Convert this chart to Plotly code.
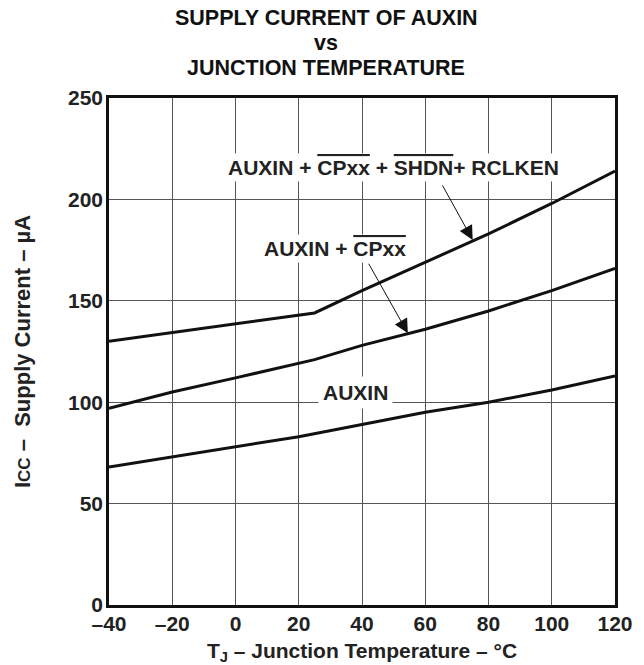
import plotly.graph_objects as go

temp_top = [-40, 25, 40, 60, 80, 100, 120]
cur_top = [130, 144, 155, 169, 183, 198, 214]
temp_mid = [-40, -20, 0, 20, 25, 40, 60, 80, 100, 120]
cur_mid = [97, 105, 112, 119, 121, 128, 136, 145, 155, 166]
temp_low = [-40, -20, 0, 20, 40, 60, 80, 100, 120]
cur_low = [68, 73, 78, 83, 89, 95, 100, 106, 113]
x_ticks = [-40, -20, 0, 20, 40, 60, 80, 100, 120]
x_ticklabels = ["\u201340", "\u201320", "0", "20", "40", "60", "80", "100", "120"]
y_ticks = [0, 50, 100, 150, 200, 250]
title_lines = ["SUPPLY CURRENT OF AUXIN", "vs", "JUNCTION TEMPERATURE"]

FONT = "Liberation Sans, Arial, sans-serif"
TXT = "#222222"
fig = go.Figure()
for xs, ys in [(temp_top, cur_top), (temp_mid, cur_mid), (temp_low, cur_low)]:
    fig.add_trace(go.Scatter(x=xs, y=ys, mode="lines",
                             line=dict(color="#111111", width=3), showlegend=False,
                             hoverinfo="skip"))

OL = "<span style='text-decoration:overline'>"
fig.add_annotation(x=50.1, y=215.5, xref="x", yref="y",
                   text="<b>AUXIN + " + OL + "CPxx</span> + " + OL + "SHDN</span>+ RCLKEN</b>",
                   showarrow=False, bgcolor="white", font=dict(size=21, color=TXT, family=FONT),
                   borderpad=2)
fig.add_annotation(x=31.5, y=176, xref="x", yref="y",
                   text="<b>AUXIN + " + OL + "CPxx</span></b>",
                   showarrow=False, bgcolor="white", font=dict(size=21, color=TXT, family=FONT),
                   borderpad=2)
fig.add_annotation(x=37.8, y=105, xref="x", yref="y",
                   text="<b>AUXIN</b>",
                   showarrow=False, bgcolor="white", font=dict(size=21, color=TXT, family=FONT),
                   borderpad=4)
# arrows
fig.add_annotation(x=75, y=180, xref="x", yref="y", ax=-31, ay=-56, text="",
                   showarrow=True, arrowhead=2, arrowsize=2.8, arrowwidth=1,
                   arrowcolor="#111")
fig.add_annotation(x=54.5, y=134, xref="x", yref="y", ax=-40, ay=-71, text="",
                   showarrow=True, arrowhead=2, arrowsize=2.8, arrowwidth=1,
                   arrowcolor="#111")
# title (three lines, tight spacing)
for line, ypos in zip(title_lines, [1.1854, 1.1361, 1.0868]):
    fig.add_annotation(x=0.429, y=ypos, xref="paper", yref="paper",
                       xanchor="center", yanchor="top", showarrow=False,
                       text="<b>" + line + "</b>",
                       font=dict(size=21.5, family=FONT, color="#111"))

fig.update_layout(
    width=644, height=665,
    margin=dict(l=109, r=29, t=98, b=60),
    paper_bgcolor="white", plot_bgcolor="white",
    font=dict(family=FONT, color=TXT),
)
fig.update_xaxes(range=[-40, 120], tickvals=x_ticks, ticktext=x_ticklabels,
                 showgrid=True, gridcolor="#555", gridwidth=1,
                 showline=True, linecolor="#111", linewidth=2.5, mirror=True,
                 ticks="", zeroline=False, automargin=False, ticklabelstandoff=-2,
                 tickfont=dict(size=21, family=FONT, color=TXT, weight="bold"),
                 title=dict(text="<b>T<sub>J</sub> \u2013 Junction Temperature \u2013 \u00b0C</b>",
                            font=dict(size=21, family=FONT, color=TXT), standoff=21))
fig.update_yaxes(range=[0, 250], tickvals=y_ticks,
                 showgrid=True, gridcolor="#555", gridwidth=1,
                 showline=True, linecolor="#111", linewidth=2.5, mirror=True,
                 ticks="", zeroline=False, automargin=False, ticklabelstandoff=-1,
                 tickfont=dict(size=21, family=FONT, color=TXT, weight="bold"),
                 title=dict(text="<b>I<span style='font-size:17px'>CC</span> \u2013  Supply Current \u2013 \u00b5A</b>",
                            font=dict(size=22, family=FONT, color=TXT), standoff=32))

fig.write_html("out.html", config={"displayModeBar": False},
               post_script="document.body.style.margin='0';document.body.style.overflow='hidden';")
